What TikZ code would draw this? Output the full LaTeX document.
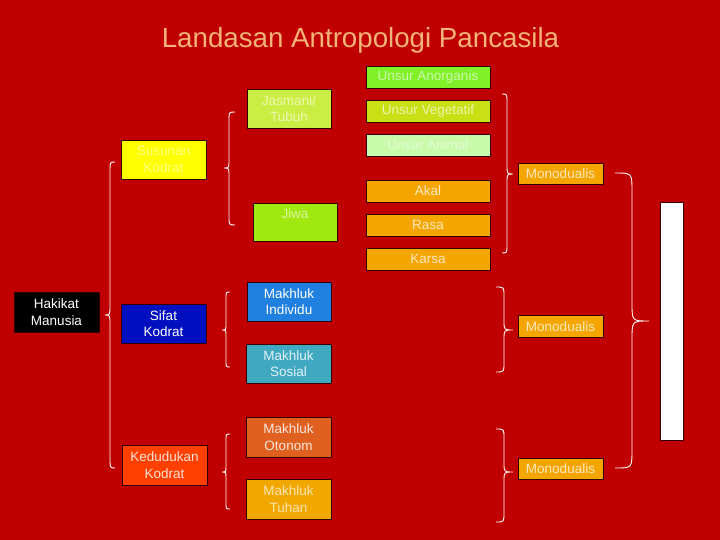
\documentclass[tikz,border=0pt]{standalone}
\usepackage{fontspec}
\setmainfont{Liberation Sans}
\definecolor{bg}{RGB}{192,0,0}
\definecolor{titlecol}{RGB}{242,180,120}
\definecolor{boxline}{RGB}{50,0,0}
\definecolor{cAnorg}{RGB}{128,240,40}
\definecolor{cVeget}{RGB}{200,224,20}
\definecolor{cAnimal}{RGB}{200,250,170}
\definecolor{cOrange}{RGB}{245,165,0}
\definecolor{cJasmani}{RGB}{204,238,68}
\definecolor{cSusunan}{RGB}{255,255,0}
\definecolor{cJiwa}{RGB}{160,232,16}
\definecolor{cIndividu}{RGB}{32,128,224}
\definecolor{cSifat}{RGB}{0,16,192}
\definecolor{cSosial}{RGB}{64,168,192}
\definecolor{cOtonom}{RGB}{224,96,32}
\definecolor{cKedudukan}{RGB}{255,64,0}
\definecolor{cTuhan}{RGB}{240,168,0}
\newcommand\curlybr[7]{\draw[bracel] (#1,#4) .. controls (#2,#4) .. (#2,#4+#7) -- (#2,#5-#7) .. controls (#2,#5) .. (#3,#5) .. controls (#2,#5) .. (#2,#5+#7) -- (#2,#6-#7) .. controls (#2,#6) .. (#1,#6);}
\begin{document}
\begin{tikzpicture}[x=1pt,y=-1pt,
  box/.style={draw=boxline, line width=0.8pt, inner sep=0pt, align=center,
    font=\fontsize{13.5}{16.5}\selectfont, text=white},
  wbox/.style={box, minimum width=85pt, minimum height=39pt},
  ubox/.style={box, minimum width=124pt, minimum height=22pt},
  mbox/.style={box, minimum width=85pt, minimum height=22pt, fill=cOrange, text=white!75!cOrange},
  bracel/.style={draw=white, line width=0.9pt}]
\fill[bg] (0,0) rectangle (720,540);
\useasboundingbox (0,0) rectangle (720,540);

\node[font=\fontsize{27.7}{30}\selectfont, text=titlecol, anchor=base] (title) at (360.5,48) {Landasan Antropologi Pancasila};

% Unsur column
\node[ubox, fill=cAnorg, text=white!60!cAnorg] (anorg) at (428,77) {Unsur Anorganis};
\node[ubox, fill=cVeget, text=white!65!cVeget] (veget) at (428,111) {Unsur Vegetatif};
\node[ubox, fill=cAnimal, text=white!50!cAnimal] (animal) at (428,145) {Unsur Animal};
\node[ubox, fill=cOrange, text=white!75!cOrange] (akal) at (428,191) {Akal};
\node[ubox, fill=cOrange, text=white!75!cOrange] (rasa) at (428,225) {Rasa};
\node[ubox, fill=cOrange, text=white!75!cOrange] (karsa) at (428,259) {Karsa};

% middle column
\node[wbox, minimum width=84pt, fill=cJasmani, text=white!60!cJasmani] (jasmani) at (289,108.5) {Jasmani/\\Tubuh};
\node[wbox, minimum width=84pt, minimum height=38pt, fill=cJiwa, text=white!60!cJiwa] (jiwa) at (295,222) {Jiwa\\\mbox{}};
\node[wbox, minimum width=84pt, fill=cIndividu] (individu) at (289,301.5) {Makhluk\\Individu};
\node[wbox, fill=cSosial, text=white!85!cSosial] (sosial) at (288.5,363.5) {Makhluk\\Sosial};
\node[wbox, minimum height=40pt, fill=cOtonom, text=white!85!cOtonom] (otonom) at (288.5,437) {Makhluk\\Otonom};
\node[wbox, minimum height=40pt, fill=cTuhan, text=white!70!cTuhan] (tuhan) at (288.5,499) {Makhluk\\Tuhan};

% second column
\node[wbox, fill=cSusunan, text=white!50!cSusunan] (susunan) at (163.5,159.5) {Susunan\\Kodrat};
\node[wbox, fill=cSifat] (sifat) at (163.5,323.5) {Sifat\\Kodrat};
\node[wbox, minimum height=40pt, fill=cKedudukan, text=white!85!cKedudukan] (kedudukan) at (164.5,465) {Kedudukan\\Kodrat};

% root
\node[wbox, minimum height=40pt, fill=black] (hakikat) at (56.5,312) {Hakikat\\Manusia};

% Monodualis
\node[mbox, minimum height=21pt] (mono1) at (560.5,173.5) {Monodualis};
\node[mbox] (mono2) at (560.5,326.5) {Monodualis};
\node[mbox, minimum height=21pt] (mono3) at (560.5,468.5) {Monodualis};

% white bar
\node[draw=boxline, line width=0.8pt, fill=white, minimum width=23pt, minimum height=238pt, inner sep=0pt] (bar) at (671.5,321) {};

% braces
\curlybr{115}{110}{105}{162}{315}{468}{10}
\curlybr{235}{229}{224}{112}{168}{225}{8}
\curlybr{230}{226}{222}{292}{330}{367}{6}
\curlybr{230}{226}{222}{434}{472}{509}{6}
\curlybr{502}{507}{513}{94}{174}{253}{9}
\curlybr{496}{504}{513}{287}{330}{372}{9}
\curlybr{496}{504}{513}{429}{472}{522}{9}
\curlybr{615}{632}{649}{173}{321}{468}{18}
\end{tikzpicture}
\end{document}
